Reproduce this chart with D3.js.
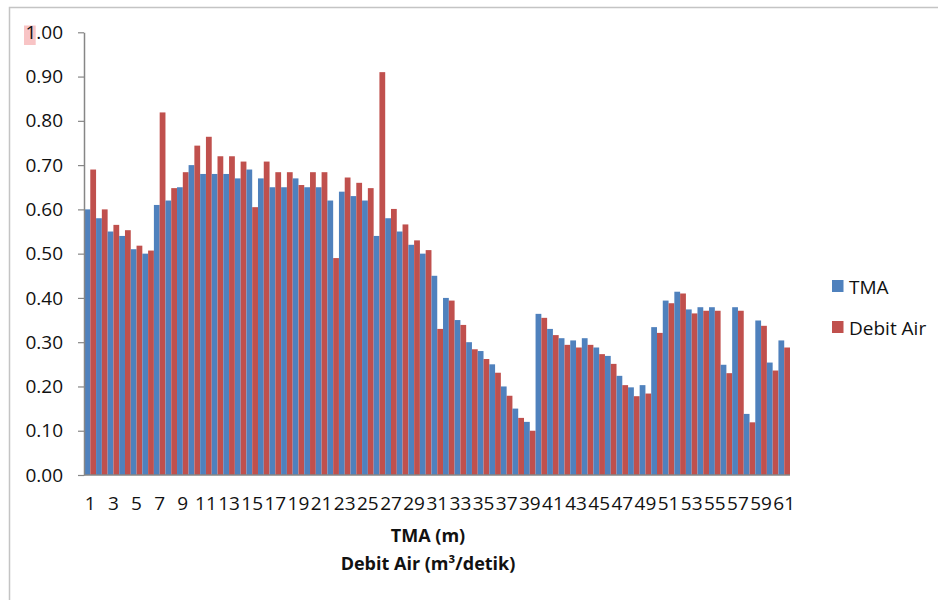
<!DOCTYPE html>
<html><head><meta charset="utf-8">
<script src="https://cdn.jsdelivr.net/npm/d3@7"></script>
<style>body{margin:0;background:#fff} svg{display:block}</style>
</head><body><svg id="c" width="938" height="600"></svg>
<script>
const categories = ["1","2","3","4","5","6","7","8","9","10","11","12","13","14","15","16","17","18","19","20",
  "21","22","23","24","25","26","27","28","29","30","31","32","33","34","35","36","37","38","39","40",
  "41","42","43","44","45","46","47","48","49","50","51","52","53","54","55","56","57","58","59","60","61"];
const seriesNames = ["TMA", "Debit Air"];
const tma = [0.60,0.58,0.55,0.54,0.51,0.50,0.61,0.62,0.65,0.70,
  0.68,0.68,0.68,0.67,0.69,0.67,0.65,0.65,0.67,0.65,
  0.65,0.62,0.64,0.63,0.62,0.54,0.58,0.55,0.52,0.50,
  0.45,0.40,0.35,0.30,0.28,0.25,0.20,0.15,0.12,0.364,
  0.33,0.309,0.304,0.309,0.288,0.269,0.224,0.198,0.203,0.334,
  0.394,0.414,0.374,0.379,0.379,0.249,0.379,0.138,0.349,0.254,0.304];
const debitAir = [0.69,0.60,0.565,0.553,0.518,0.507,0.819,0.648,0.684,0.744,
  0.764,0.72,0.72,0.708,0.605,0.708,0.684,0.684,0.655,0.684,
  0.684,0.49,0.672,0.66,0.648,0.91,0.601,0.566,0.53,0.508,
  0.33,0.394,0.339,0.284,0.262,0.231,0.179,0.129,0.10,0.355,
  0.316,0.294,0.288,0.294,0.273,0.251,0.203,0.178,0.184,0.321,
  0.388,0.41,0.365,0.371,0.371,0.23,0.371,0.119,0.337,0.236,0.288];
const yTickValues = [0,0.1,0.2,0.3,0.4,0.5,0.6,0.7,0.8,0.9,1.0];
const xTickLabels = ["1","3","5","7","9","11","13","15","17","19","21","23","25","27","29","31",
  "33","35","37","39","41","43","45","47","49","51","53","55","57","59","61"];
const colors = {"TMA": "#4F81BD", "Debit Air": "#C0504D"};
const xTitle1 = "TMA (m)";
const xTitle2 = "Debit Air (m³/detik)";

const svg = d3.select("#c");
const FONT = "'Open Sans', 'Liberation Sans', sans-serif";

// outer chart border
svg.append("rect").attr("x", 9.5).attr("y", 7.5).attr("width", 960).attr("height", 620)
  .attr("fill", "none").attr("stroke", "#c4c4c4").attr("stroke-width", 1.5);

const plotL = 84, plotR = 790, plotT = 32.3, plotB = 475;
const x = d3.scaleBand().domain(categories).range([plotL + 0.5, plotR]).padding(0);
const xs = d3.scaleBand().domain(seriesNames).range([0, x.bandwidth()]).padding(0);
const y = d3.scaleLinear().domain([0, 1]).range([plotB, plotT]);

const data = categories.map((c, i) => ({cat: c, values: [
  {name: "TMA", v: tma[i]}, {name: "Debit Air", v: debitAir[i]}]}));

const g = svg.append("g");
g.selectAll("g.cat").data(data).join("g").attr("class", "cat")
  .attr("transform", d => `translate(${x(d.cat)},0)`)
  .selectAll("rect").data(d => d.values).join("rect")
  .attr("x", d => xs(d.name))
  .attr("width", xs.bandwidth())
  .attr("y", d => y(d.v))
  .attr("height", d => y(0) - y(d.v))
  .attr("fill", d => colors[d.name]);

// highlight behind "1" of 1.00
svg.append("rect").attr("x", 24).attr("y", 25.5).attr("width", 11.7).attr("height", 19.5)
  .attr("fill", "#f8c4c5");

// y axis
const yAxis = svg.append("g").attr("transform", `translate(${plotL},0)`)
  .call(d3.axisLeft(y).tickValues(yTickValues).tickFormat(d3.format(".2f"))
    .tickSize(6).tickSizeOuter(0).tickPadding(15));
yAxis.select(".domain").attr("stroke", "#868686").attr("stroke-width", 1.5);
yAxis.selectAll(".tick line").attr("stroke", "#868686").attr("stroke-width", 1.2);
yAxis.selectAll("text").attr("font-family", FONT).attr("font-size", 19).attr("fill", "#111");

// x axis
const xAxis = svg.append("g").attr("transform", `translate(0,${plotB})`)
  .call(d3.axisBottom(x).tickValues(xTickLabels).tickSize(0).tickSizeOuter(0).tickPadding(22));
xAxis.select(".domain").attr("stroke", "#868686").attr("stroke-width", 1.5)
  .attr("d", `M${plotL},0H${plotR}`);
xAxis.selectAll("text").attr("font-family", FONT).attr("font-size", 19).attr("fill", "#111");

// axis titles
svg.append("text").attr("x", 428).attr("y", 542).attr("text-anchor", "middle")
  .attr("font-family", FONT).attr("font-weight", "bold").attr("font-size", 18).attr("fill", "#111")
  .text(xTitle1);
svg.append("text").attr("x", 428).attr("y", 570).attr("text-anchor", "middle")
  .attr("font-family", FONT).attr("font-weight", "bold").attr("font-size", 18).attr("fill", "#111")
  .text(xTitle2);

// legend
const lg = svg.append("g");
seriesNames.forEach((n, i) => {
  const yy = 280 + i * 41;
  lg.append("rect").attr("x", 832).attr("y", yy).attr("width", 11.5).attr("height", 12)
    .attr("fill", colors[n]);
  lg.append("text").attr("x", 849).attr("y", yy + 13.5)
    .attr("font-family", FONT).attr("font-size", 19).attr("fill", "#111").text(n);
});
</script></body></html>
